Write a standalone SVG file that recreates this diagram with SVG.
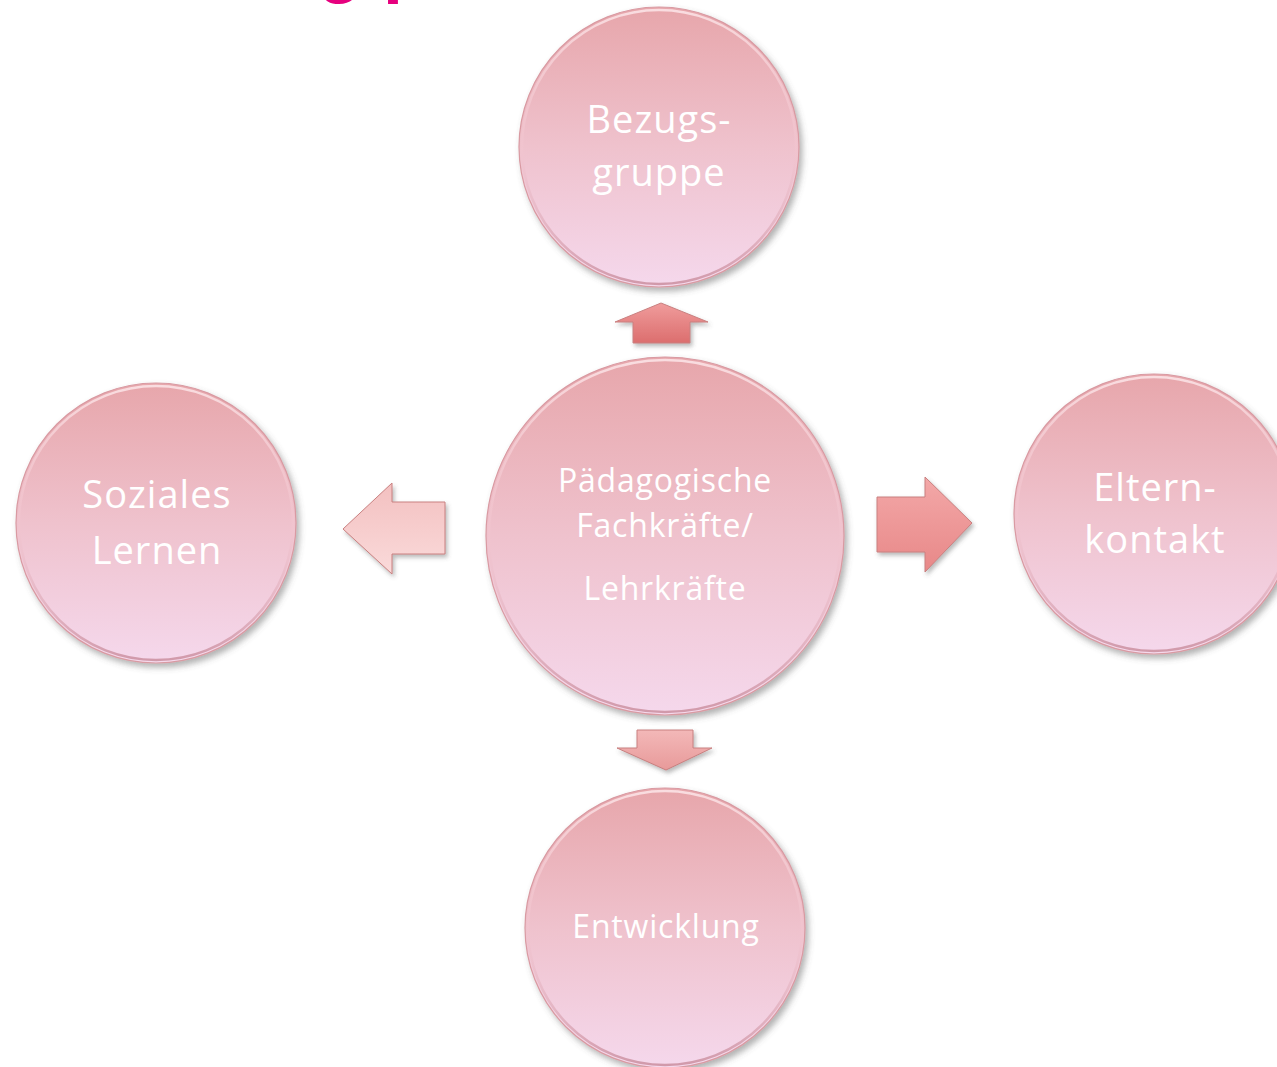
<svg xmlns="http://www.w3.org/2000/svg" width="1277" height="1067" viewBox="0 0 1277 1067">
<defs>
<linearGradient id="cg" x1="0" y1="0" x2="0" y2="1">
<stop offset="0" stop-color="#e7a6ab"/>
<stop offset="0.5" stop-color="#efc2cd"/>
<stop offset="1" stop-color="#f5d8ec"/>
</linearGradient>
<linearGradient id="rim" x1="0" y1="0" x2="0" y2="1">
<stop offset="0" stop-color="#fbe3e6" stop-opacity="0.9"/>
<stop offset="0.5" stop-color="#f4c8d2" stop-opacity="0.3"/>
<stop offset="1" stop-color="#c88a9a" stop-opacity="0.8"/>
</linearGradient>
<linearGradient id="aUp" x1="0" y1="0" x2="0" y2="1">
<stop offset="0" stop-color="#f09c9c"/>
<stop offset="1" stop-color="#dc6e6e"/>
</linearGradient>
<linearGradient id="aLeft" x1="0" y1="0" x2="0" y2="1">
<stop offset="0" stop-color="#f3c0c0"/>
<stop offset="1" stop-color="#fadada"/>
</linearGradient>
<linearGradient id="aRight" x1="0" y1="0" x2="0" y2="1">
<stop offset="0" stop-color="#f3a8a8"/>
<stop offset="1" stop-color="#e88888"/>
</linearGradient>
<linearGradient id="aDown" x1="0" y1="0" x2="0" y2="1">
<stop offset="0" stop-color="#f3b8b8"/>
<stop offset="1" stop-color="#e89a9a"/>
</linearGradient>
<filter id="sh" x="-20%" y="-20%" width="140%" height="140%">
<feDropShadow dx="3" dy="4" stdDeviation="3" flood-color="#555" flood-opacity="0.45"/>
</filter>
<filter id="ash" x="-30%" y="-30%" width="160%" height="160%">
<feDropShadow dx="2" dy="3" stdDeviation="2" flood-color="#555" flood-opacity="0.4"/>
</filter>
</defs>
<style>
.c{fill:url(#cg);stroke:#d99aa2;stroke-width:1.2;filter:url(#sh)}
.r{fill:none;stroke:url(#rim);stroke-width:2.5}
.t{font-family:"Open Sans","Noto Sans",sans-serif;fill:#ffffff;text-anchor:middle}
.big{font-size:38px;letter-spacing:1px}
.sm{font-size:32px;letter-spacing:0.8px}
.a{stroke:#c98080;stroke-width:1;filter:url(#ash)}
.title{font-family:"Liberation Sans",Arial,sans-serif;font-weight:bold;font-size:72px;fill:#e6007e}
</style>
<rect width="1277" height="1067" fill="#ffffff"/>
<g id="title">
<text class="title" x="318" y="-11">g</text>
<text class="title" x="383" y="-11">p</text>
</g>
<g id="connectors">
<polygon class="a" fill="url(#aUp)" points="661,303 708,322 690,322 690,343 633,343 633,322 615,322"/>
<polygon class="a" fill="url(#aLeft)" points="343,529 392,483 392,502 445,502 445,554 392,554 392,574"/>
<polygon class="a" fill="url(#aRight)" points="877,497 925,497 925,477 972,523 925,572 925,552 877,552"/>
<polygon class="a" fill="url(#aDown)" points="637,730 693,730 693,748 712,748 666,770 617,748 637,748"/>
</g>
<g id="node-bezugsgruppe">
<circle class="c" cx="659" cy="147" r="140"/>
<circle class="r" cx="659" cy="147" r="137"/>
<text class="t big" x="659" y="133">Bezugs-</text>
<text class="t big" x="659" y="186">gruppe</text>
</g>
<g id="node-soziales">
<circle class="c" cx="156" cy="523" r="140"/>
<circle class="r" cx="156" cy="523" r="137"/>
<text class="t big" x="157" y="508">Soziales</text>
<text class="t big" x="157" y="564">Lernen</text>
</g>
<g id="node-center">
<circle class="c" cx="665" cy="536" r="179"/>
<circle class="r" cx="665" cy="536" r="176"/>
<text class="t sm" x="665" y="492">Pädagogische</text>
<text class="t sm" x="665" y="537">Fachkräfte/</text>
<text class="t sm" x="665" y="600">Lehrkräfte</text>
</g>
<g id="node-eltern">
<circle class="c" cx="1154" cy="514" r="140"/>
<circle class="r" cx="1154" cy="514" r="137"/>
<text class="t big" x="1155" y="501">Eltern-</text>
<text class="t big" x="1155" y="553">kontakt</text>
</g>
<g id="node-entwicklung">
<circle class="c" cx="665" cy="928" r="140"/>
<circle class="r" cx="665" cy="928" r="137"/>
<text class="t sm" x="666" y="938">Entwicklung</text>
</g>
</svg>
